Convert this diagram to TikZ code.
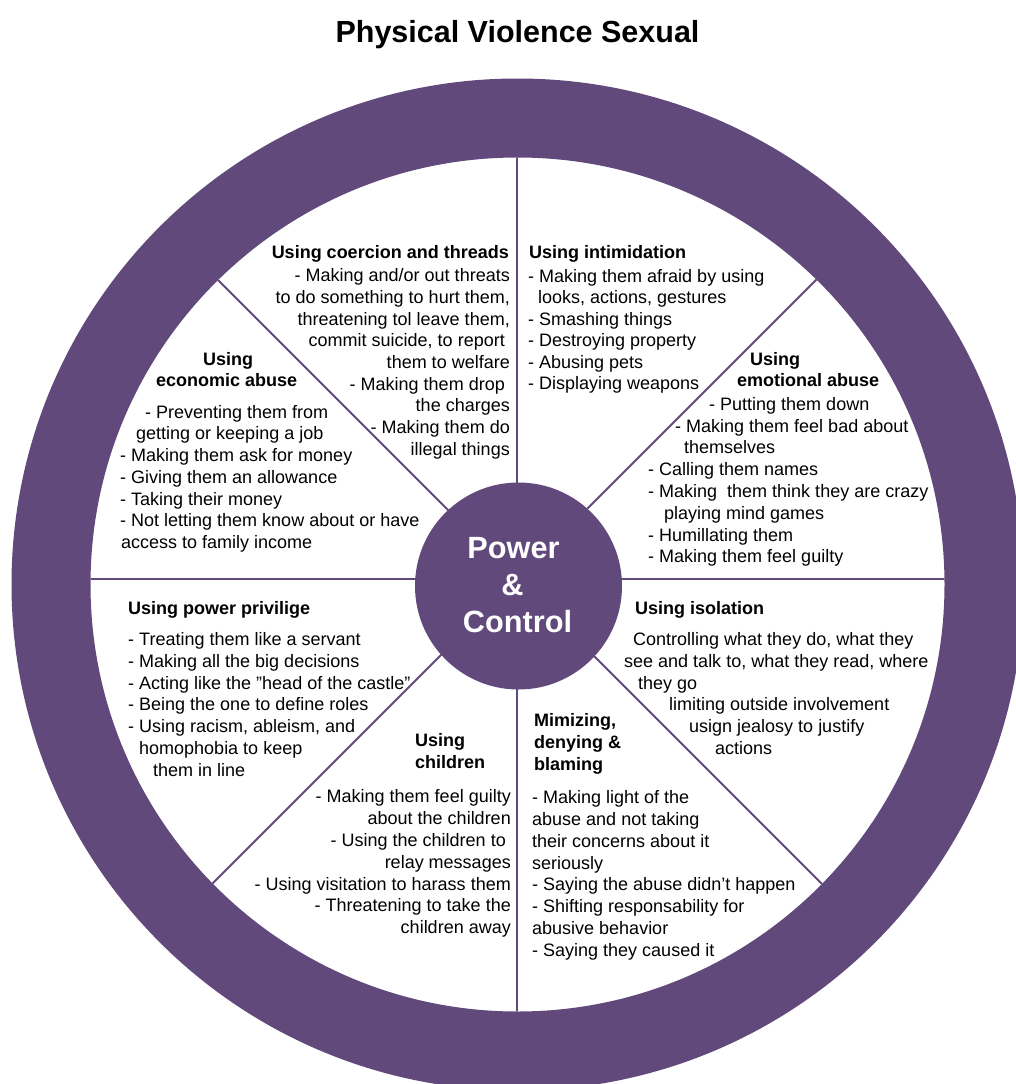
\documentclass[tikz,border=0pt]{standalone}
\usepackage{fontspec}
\setmainfont{Liberation Sans}
\usepackage{tikz}
\definecolor{wheel}{RGB}{97,74,123}

\begin{document}
\begin{tikzpicture}[x=1pt, y=-1pt,
    txt/.style={inner sep=0pt, font=\fontsize{18}{22}\selectfont},
    lft/.style={txt, anchor=base west},
    rgt/.style={txt, anchor=base east},
    hd/.style={font=\fontsize{18}{22}\selectfont\bfseries},
    spoke/.style={draw=wheel, line width=1.8pt},
    hub/.style={circle, fill=wheel, minimum size=207pt, inner sep=0pt},
    hubtxt/.style={anchor=base, inner sep=0pt, text=white, font=\fontsize{30.7}{37}\selectfont\bfseries}]
    \useasboundingbox (0,0) rectangle (1016,1084);
    \clip (0,0) rectangle (1016,1084);

    % Title
    \node[anchor=base, inner sep=0pt, font=\fontsize{30.5}{36}\selectfont\bfseries] (title) at (517.5,42) {Physical Violence Sexual};

    % Outer ring
    \coordinate (c) at (517.5,584.5);
    \fill[wheel, even odd rule] (c) circle (506pt) (c) circle (427pt);

    % Spokes, cut at the inner edge of the ring
    \coordinate (s) at (517,579);
    \begin{scope}
        \clip (c) circle (427pt);
        \foreach \a in {0,45,...,315}
            \draw[spoke] (s) -- ++(\a:440pt);
    \end{scope}

    % Hub
    \node[hub] (pc) at (518.5,586) {};
    \node[hubtxt] (pw) at (513.5,558) {Power};
    \node[hubtxt] (amp) at (512.5,595) {\&};
    \node[hubtxt] (ctl) at (517.5,632) {Control};

    % Using coercion and threads
    \node[rgt, hd] (co0) at (509,258) {Using coercion and threads};
    \foreach \x/\y/\t [count=\i] in {510/281.5/{- Making and/or out threats},
        510/303.3/{to do something to hurt them,}, 510/325/{threatening tol leave them,},
        505/346.7/{commit suicide, to report}, 510/368.3/{them to welfare},
        505/390/{- Making them drop}, 510/411.7/{the charges},
        510/433.3/{- Making them do}, 510/455/{illegal things}}
        \node[rgt] (co\i) at (\x,\y) {\t};

    % Using intimidation
    \node[lft, hd] (in0) at (529,258) {Using intimidation};
    \foreach \x/\y/\t [count=\i] in {528/282/{- Making them afraid by using},
        538/303.5/{looks, actions, gestures}, 528/325/{- Smashing things},
        528/346.5/{- Destroying property}, 528/368/{- Abusing pets},
        528/389.5/{- Displaying weapons}}
        \node[lft] (in\i) at (\x,\y) {\t};

    % Using economic abuse
    \node[lft, hd] (ec0) at (203,365) {Using};
    \node[lft, hd] (ec00) at (156,386.5) {economic abuse};
    \foreach \x/\y/\t [count=\i] in {145/418/{- Preventing them from},
        136/439.5/{getting or keeping a job}, 120/461.5/{- Making them ask for money},
        120/483/{- Giving them an allowance}, 120/505/{- Taking their money},
        120/526.5/{- Not letting them know about or have}, 121/548/{access to family income}}
        \node[lft] (ec\i) at (\x,\y) {\t};

    % Using emotional abuse
    \node[lft, hd] (em0) at (750,365) {Using};
    \node[lft, hd] (em00) at (737,386.5) {emotional abuse};
    \foreach \x/\y/\t [count=\i] in {709/410/{- Putting them down},
        675/432/{- Making them feel bad about}, 684/453.5/{themselves},
        648/475.5/{- Calling them names}, 648/497/{- Making\ \ them think they are crazy},
        664/519/{playing mind games}, 648/541/{- Humillating them},
        648/562.5/{- Making them feel guilty}}
        \node[lft] (em\i) at (\x,\y) {\t};

    % Using power privilige
    \node[lft, hd] (pp0) at (128,614) {Using power privilige};
    \foreach \x/\y/\t [count=\i] in {128/645.5/{- Treating them like a servant},
        128/667.3/{- Making all the big decisions}, 128/689/{- Acting like the ”head of the castle”},
        128/710.8/{- Being the one to define roles}, 128/732.5/{- Using racism, ableism, and},
        139/754.3/{homophobia to keep}, 153/776/{them in line}}
        \node[lft] (pp\i) at (\x,\y) {\t};

    % Using isolation
    \node[lft, hd] (is0) at (635,614) {Using isolation};
    \foreach \x/\y/\t [count=\i] in {633/645.5/{Controlling what they do, what they},
        624/667.3/{see and talk to, what they read, where}, 638/689/{they go},
        669/710.8/{limiting outside involvement}, 689/732.5/{usign jealosy to justify},
        715/754.3/{actions}}
        \node[lft] (is\i) at (\x,\y) {\t};

    % Using children
    \node[lft, hd] (ch0) at (415,746.7) {Using};
    \node[lft, hd] (ch00) at (415,768.7) {children};
    \foreach \x/\y/\t [count=\i] in {511/802.7/{- Making them feel guilty},
        511/824.5/{about the children}, 506/846.3/{- Using the children to},
        511/868/{relay messages}, 511/890/{- Using visitation to harass them},
        511/911.5/{- Threatening to take the}, 511/933.3/{children away}}
        \node[rgt] (ch\i) at (\x,\y) {\t};

    % Mimizing, denying & blaming
    \node[lft, hd] (mi0) at (534,726.7) {Mimizing,};
    \node[lft, hd] (mi00) at (534,748.5) {denying \&};
    \node[lft, hd] (mi000) at (534,770.3) {blaming};
    \foreach \x/\y/\t [count=\i] in {532/803.7/{- Making light of the},
        532/825.5/{abuse and not taking}, 532/847.3/{their concerns about it},
        532/869/{seriously}, 532/890.8/{- Saying the abuse didn’t happen},
        532/912.5/{- Shifting responsability for}, 532/934.3/{abusive behavior},
        532/956/{- Saying they caused it}}
        \node[lft] (mi\i) at (\x,\y) {\t};
\end{tikzpicture}
\end{document}
